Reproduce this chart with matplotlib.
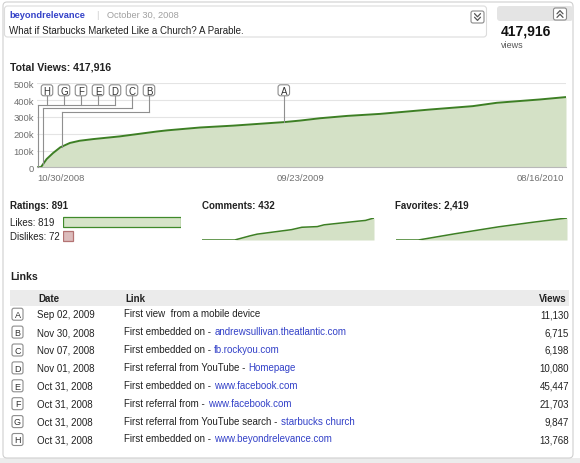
import matplotlib
matplotlib.use("Agg")
import matplotlib.pyplot as plt
import matplotlib.dates as mdates
from matplotlib.patches import FancyBboxPatch, Rectangle
import numpy as np
import datetime as dt

plt.rcParams['font.family'] = ['Liberation Sans', 'DejaVu Sans']

# ---------------- data ----------------
channel_name = "beyondrelevance"
upload_date = "October 30, 2008"
video_title = "What if Starbucks Marketed Like a Church? A Parable."
total_views = 417916
total_ratings = 891
total_comments = 432
total_favorites = 2419

view_dates = ["2008-10-30", "2008-11-04", "2008-11-11", "2008-11-19", "2008-11-28",
              "2008-12-10", "2008-12-22", "2009-01-08", "2009-02-10", "2009-03-28",
              "2009-04-10", "2009-05-21", "2009-07-01", "2009-09-02", "2009-09-22",
              "2009-10-17", "2009-11-20", "2009-12-31", "2010-03-03", "2010-04-25",
              "2010-05-25", "2010-07-18", "2010-08-19"]
view_totals = [0, 1500, 49000, 85000, 119000, 145000, 158000, 168000, 184000, 213000,
               220000, 237000, 248000, 269000, 278000, 292000, 306000, 318000, 344000,
               364000, 384000, 404000, 418000]

comment_dates = ["2008-10-30", "2009-03-04", "2009-05-02", "2009-05-29", "2009-10-07",
                 "2009-11-16", "2010-01-14", "2010-02-09", "2010-06-21", "2010-07-17",
                 "2010-08-19"]
comment_totals = [0, 0, 82, 115, 203, 250, 263, 298, 371, 384, 432]

favorite_dates = ["2008-10-30", "2009-01-24", "2009-06-17", "2009-11-29", "2010-04-09",
                  "2010-08-19"]
favorite_totals = [0, 0, 700, 1450, 1950, 2419]

rating_labels = ["Likes", "Dislikes"]
rating_values = [819, 72]

event_letters = ["A", "B", "C", "D", "E", "F", "G", "H"]
event_dates = ["2009-09-02", "2008-11-30", "2008-11-07", "2008-11-01",
               "2008-10-31", "2008-10-31", "2008-10-31", "2008-10-31"]
event_prefix = ["First view  from a mobile device", "First embedded on -",
                "First embedded on -", "First referral from YouTube -",
                "First embedded on -", "First referral from -",
                "First referral from YouTube search -", "First embedded on -"]
event_links = ["", "andrewsullivan.theatlantic.com", "fb.rockyou.com", "Homepage",
               "www.facebook.com", "www.facebook.com", "starbucks church",
               "www.beyondrelevance.com"]
event_views = [11130, 6715, 6198, 10080, 45447, 21703, 9847, 13768]

x_tick_dates = ["2008-10-30", "2009-09-23", "2010-08-16"]
y_ticks = [0, 100000, 200000, 300000, 400000, 500000]
y_tick_labels = ["0", "100k", "200k", "300k", "400k", "500k"]
date_start, date_end = "2008-10-30", "2010-08-19"

# ---------------- style ----------------
W, H = 580, 464
GREEN = "#3d7f24"
FILL = "#d4e1c6"
BLUE = "#3341c8"
TXT = "#222222"
FS = 7.0


def d2n(s):
    return mdates.date2num(dt.datetime.strptime(s, "%Y-%m-%d"))


fig = plt.figure(figsize=(W / 100, H / 100), dpi=100)
bg = fig.add_axes([0, 0, 1, 1], zorder=0)
bg.set_xlim(0, W)
bg.set_ylim(H, 0)
bg.axis("off")


def fax(x0, y0, x1, y1, **kw):
    return fig.add_axes([x0 / W, (H - y1) / H, (x1 - x0) / W, (y1 - y0) / H], **kw)


# panel background
bg.add_patch(Rectangle((0, 459), W, 5, facecolor="#ececec", edgecolor="none"))
bg.add_patch(FancyBboxPatch((3, 3), 570, 456, boxstyle="round,pad=0,rounding_size=4",
                            facecolor="white", edgecolor="#d0d0d0", lw=0.8))
bg.add_patch(FancyBboxPatch((4.5, 7), 482, 31, boxstyle="round,pad=0,rounding_size=3",
                            facecolor="white", edgecolor="#dcdcdc", lw=0.8))
bg.add_patch(FancyBboxPatch((497, 7), 76, 15, boxstyle="round,pad=0,rounding_size=3",
                            facecolor="#e4e4e4", edgecolor="none"))


def chevron_button(cx, cy, up):
    bg.add_patch(FancyBboxPatch((cx - 6.5, cy - 6), 13, 12,
                                boxstyle="round,pad=0,rounding_size=2",
                                facecolor="white", edgecolor="#8a8a8a", lw=0.8))
    s = -1 if up else 1
    for off in (-1.8, 1.8):
        yy = cy + off
        bg.plot([cx - 3, cx, cx + 3], [yy - s * 1.6, yy + s * 1.6, yy - s * 1.6],
                color="#555555", lw=0.9, solid_capstyle="round")


chevron_button(477.5, 18, up=False)
chevron_button(560, 15, up=True)

# header text
bg.text(9, 19.5, channel_name, fontsize=FS - 0.3, fontweight="bold", color=BLUE,
        va="bottom")
bg.text(96, 19.5, "|", fontsize=FS - 0.3, color="#cccccc", va="bottom")
bg.text(107, 19.5, upload_date, fontsize=FS - 0.3, color="#a0a0a0", va="bottom")
bg.text(9, 30.5, video_title, fontsize=FS, color=TXT, va="center")
bg.text(500.5, 32, f"{total_views:,}", fontsize=10, fontweight="bold", color="#111111",
        va="center")
bg.text(501, 45.5, "views", fontsize=FS - 0.5, color="#555555", va="center")
bg.text(9.5, 67, f"Total Views: {total_views:,}", fontsize=7.6, fontweight="bold",
        color=TXT, va="center")

# ---------------- main chart ----------------
ax = fax(37, 84.3, 566, 168.3, zorder=1)
ax.set_facecolor("none")
vx = [d2n(s) for s in view_dates]
ax.fill_between(vx, view_totals, 0, color=FILL, lw=0, zorder=2)
ax.plot(vx, view_totals, color=GREEN, lw=1.4, zorder=3, solid_capstyle="round")
ax.set_xlim(d2n(date_start), d2n(date_end))
ax.set_ylim(0, 500000)
ax.set_yticks(y_ticks)
ax.set_yticklabels(y_tick_labels)
ax.set_xticks([d2n(s) for s in x_tick_dates])
ax.set_xticklabels([dt.datetime.strptime(s, "%Y-%m-%d").strftime("%m/%d/%Y")
                    for s in x_tick_dates])
for lbl, ha in zip(ax.get_xticklabels(), ["left", "center", "right"]):
    lbl.set_ha(ha)
ax.tick_params(length=0, labelsize=6.8, labelcolor="#707070")
ax.tick_params(axis="x", pad=4)
ax.tick_params(axis="y", pad=2)
ax.yaxis.grid(True, color="#e4e4e4", lw=0.8, zorder=0)
ax.set_axisbelow(True)
for sp in ("top", "right", "left"):
    ax.spines[sp].set_visible(False)
ax.spines["bottom"].set_color("#b8b8b8")
ax.spines["bottom"].set_linewidth(0.8)

# ---------------- annotation markers ----------------
ov = fig.add_axes([0, 0, 1, 1], zorder=5)
ov.set_xlim(0, W)
ov.set_ylim(H, 0)
ov.axis("off")
ov.set_facecolor("none")


def data_to_px(xn, yv):
    d = ax.transData.transform((xn, yv))
    return d[0], H - d[1]


def curve_px(date_s):
    xn = d2n(date_s)
    yv = np.interp(xn, vx, view_totals)
    return data_to_px(xn, yv)


BOX_Y = 91.3
BW, BH = 11.5, 11


def marker_box(axh, cx, cy, letter, fs=7):
    axh.add_patch(FancyBboxPatch((cx - BW / 2, cy - BH / 2), BW, BH,
                                 boxstyle="round,pad=0,rounding_size=2.5",
                                 facecolor="white", edgecolor="#8c8c8c", lw=0.8, zorder=6))
    axh.text(cx, cy + 0.3, letter, ha="center", va="center", fontsize=fs, color="#333333",
             zorder=7)


LC = "#8f8f8f"
idx = {l: i for i, l in enumerate(event_letters)}
stack = ["H", "G", "F", "E", "D", "C", "B"]
box_x = {l: 47 + 17.0 * k for k, l in enumerate(stack)}
groups = [(["H", "G", "F", "E", "D"], event_dates[idx["H"]], 105.7),
          (["C"], event_dates[idx["C"]], 109.3),
          (["B"], event_dates[idx["B"]], 113.3)]
for letters, dstr, ly in groups:
    vx_px, vy_px = curve_px(dstr)
    for l in letters:
        ov.plot([box_x[l], box_x[l]], [BOX_Y + BH / 2, ly], color=LC, lw=0.8, zorder=4)
    right = max(box_x[l] for l in letters)
    ov.plot([vx_px, right], [ly, ly], color=LC, lw=0.8, zorder=4)
    ov.plot([vx_px, vx_px], [ly, vy_px], color=LC, lw=0.8, zorder=4)
for l in stack:
    marker_box(ov, box_x[l], BOX_Y, l)
ax_px, ay_px = curve_px(event_dates[idx["A"]])
ov.plot([ax_px, ax_px], [BOX_Y + BH / 2, ay_px], color=LC, lw=0.8, zorder=4)
marker_box(ov, ax_px, BOX_Y, "A")

# ---------------- ratings ----------------
bg.text(10, 206, f"Ratings: {total_ratings:,}", fontsize=FS, fontweight="bold",
        color=TXT, va="center")
rating_y = [223, 237]
for lab, val, y in zip(rating_labels, rating_values, rating_y):
    bg.text(10, y, f"{lab}: {val:,}", fontsize=FS, color=TXT, va="center")
axr = fax(63, 216, 181, 244, zorder=1)
axr.barh([0, 1], rating_values, height=0.72, color=["#d6e4c8", "#dcbcbc"],
         edgecolor=["#3f8a2a", "#b47373"], lw=0.9)
axr.set_xlim(0, max(rating_values))
axr.set_ylim(1.5, -0.5)
axr.axis("off")

# ---------------- sparklines ----------------
bg.text(202, 206, f"Comments: {total_comments:,}", fontsize=FS, fontweight="bold",
        color=TXT, va="center")
bg.text(395, 206, f"Favorites: {total_favorites:,}", fontsize=FS, fontweight="bold",
        color=TXT, va="center")
for (x0, x1), dates, vals in [((202, 374), comment_dates, comment_totals),
                              ((396, 567), favorite_dates, favorite_totals)]:
    a = fax(x0, 219, x1, 241, zorder=1)
    xs = [d2n(s) for s in dates]
    a.fill_between(xs, vals, 0, color=FILL, lw=0)
    a.plot(xs, vals, color=GREEN, lw=1.1, solid_capstyle="round")
    a.set_xlim(d2n(date_start), d2n(date_end))
    a.set_ylim(0, max(vals))
    a.axis("off")

# ---------------- links table ----------------
bg.text(10, 277, "Links", fontsize=7.6, fontweight="bold", color=TXT, va="center")
bg.add_patch(Rectangle((10, 291), 559, 15.5, facecolor="#ebebeb", edgecolor="none"))
bg.text(38, 298.7, "Date", fontsize=FS, fontweight="bold", color=TXT, va="center")
bg.text(125, 298.7, "Link", fontsize=FS, fontweight="bold", color=TXT, va="center")
bg.text(567, 298.7, "Views", fontsize=FS, fontweight="bold", color=TXT, va="center",
        ha="right")
row_y0, row_dy = 315.2, 17.9
for i, letter in enumerate(event_letters):
    y = row_y0 + i * row_dy
    bg.add_patch(FancyBboxPatch((12, y - 6), 11, 12, boxstyle="round,pad=0,rounding_size=2",
                                facecolor="white", edgecolor="#8c8c8c", lw=0.8))
    bg.text(17.5, y + 0.3, letter, ha="center", va="center", fontsize=6.5, color="#333333")
    date_txt = dt.datetime.strptime(event_dates[i], "%Y-%m-%d").strftime("%b %d, %Y")
    bg.text(37, y, date_txt, fontsize=FS, color=TXT, va="center")
    tp = bg.text(124.5, y + 4, event_prefix[i], fontsize=FS, color=TXT, va="bottom")
    if event_links[i]:
        bg.annotate(event_links[i], xy=(1, 0), xycoords=tp, xytext=(1.9, 0),
                    textcoords="offset points", fontsize=FS, color=BLUE,
                    va="bottom", ha="left")
    bg.text(569, y, f"{event_views[i]:,}", fontsize=FS, color=TXT, va="center", ha="right")

fig.savefig("out.png", dpi=100)
